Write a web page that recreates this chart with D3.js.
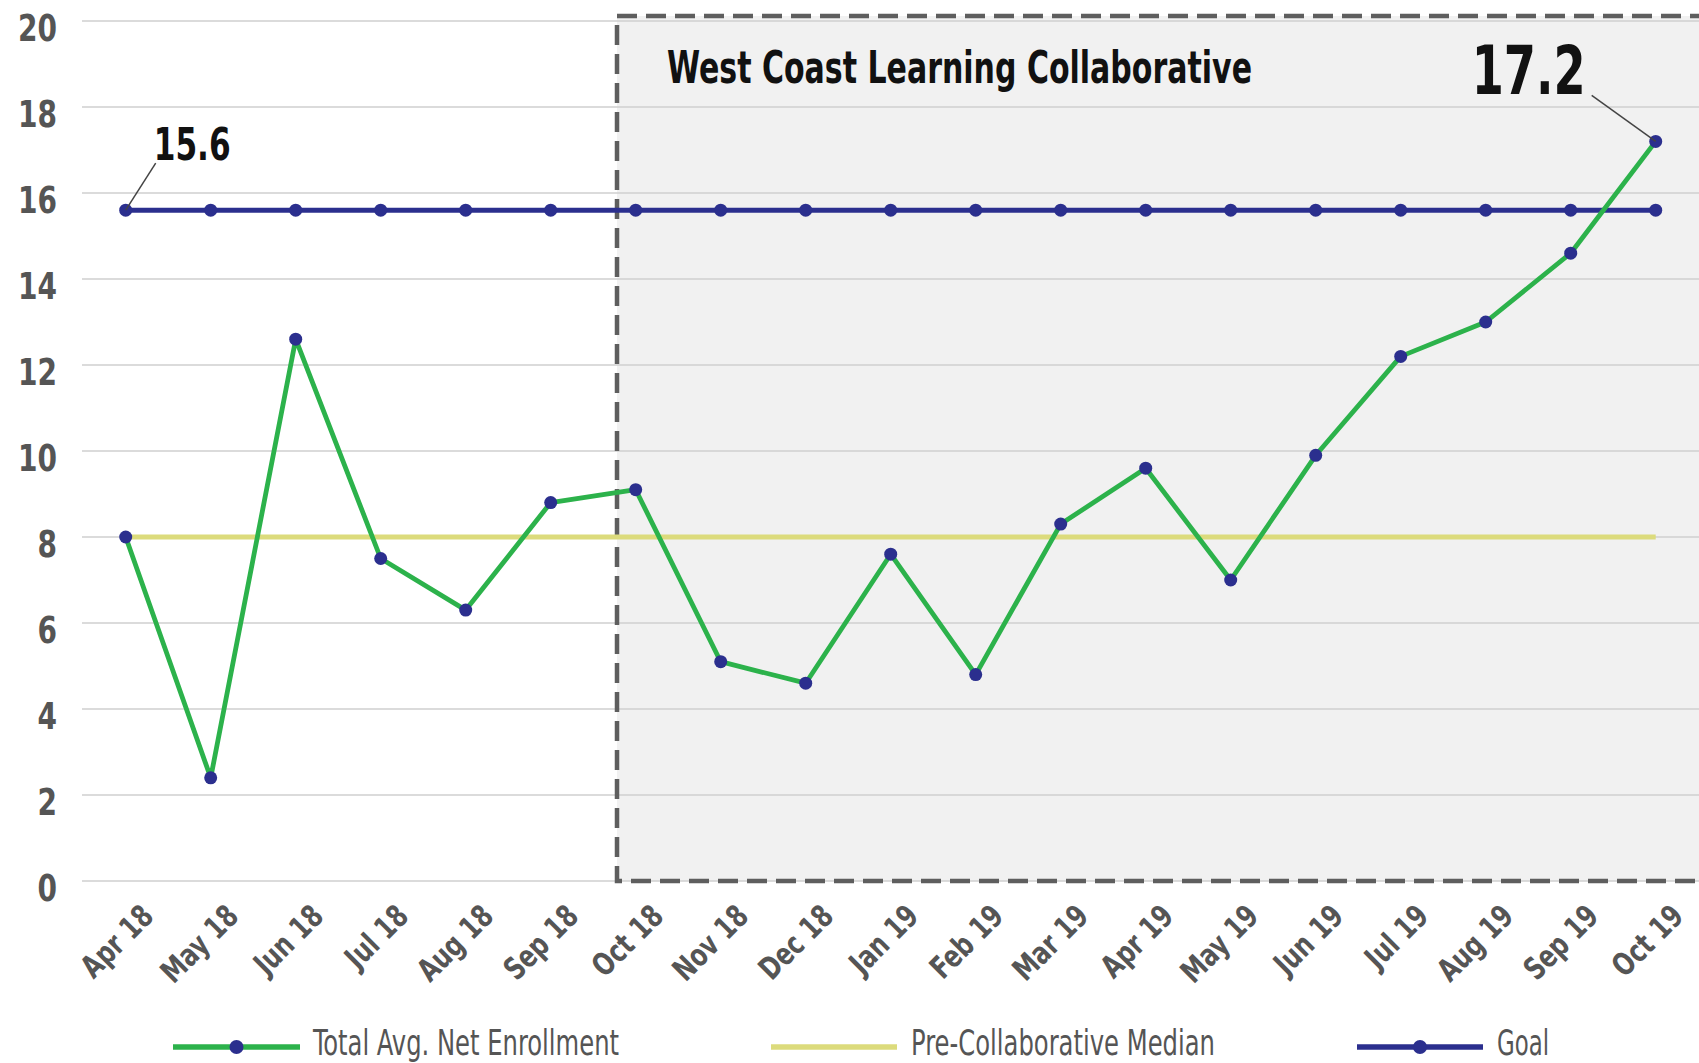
<!DOCTYPE html>
<html><head><meta charset="utf-8">
<script src="https://cdn.jsdelivr.net/npm/d3@7"></script>
<style>
body{margin:0;background:#fff;}
svg{display:block;}
text{font-family:"Liberation Sans Narrow","DejaVu Sans Condensed","Roboto Condensed",sans-serif;}
</style>
</head><body>
<svg id="chart" width="1699" height="1063"></svg>
<script>
// ---- data ----
const months = ["Apr 18","May 18","Jun 18","Jul 18","Aug 18","Sep 18","Oct 18","Nov 18","Dec 18",
  "Jan 19","Feb 19","Mar 19","Apr 19","May 19","Jun 19","Jul 19","Aug 19","Sep 19","Oct 19"];
const enrollment = [8.0,2.4,12.6,7.5,6.3,8.8,9.1,5.1,4.6,7.6,4.8,8.3,9.6,7.0,9.9,12.2,13.0,14.6,17.2];
const preMedian  = [8,8,8,8,8,8,8,8,8,8,8,8,8,8,8,8,8,8,8];
const goal       = [15.6,15.6,15.6,15.6,15.6,15.6,15.6,15.6,15.6,15.6,15.6,15.6,15.6,15.6,15.6,15.6,15.6,15.6,15.6];
const yTicks = [0,2,4,6,8,10,12,14,16,18,20];
const seriesNames = ["Total Avg. Net Enrollment","Pre-Collaborative Median","Goal"];
const collabStart = "Oct 18";
const collabTitle = "West Coast Learning Collaborative";
const calloutStart = {month:"Apr 18", value:15.6, label:"15.6"};
const calloutEnd = {month:"Oct 19", value:17.2, label:"17.2"};

// ---- styles ----
const GREEN = "#2cb24b", BLUE = "#2b2f8e", YELLOW = "#dcdb7c", GRID = "#cfcfcf", TXT = "#555555";
const FONT = '"Liberation Sans Narrow","DejaVu Sans Condensed",sans-serif';

const W = 1699, H = 1063;
const svg = d3.select("#chart");

const x = d3.scalePoint().domain(months).range([125.7, 1655.7]);
const y = d3.scaleLinear().domain([0, 20]).range([881, 21]);
const step = x.step();
const gridLeft = 82;

// shaded collaborative region
const boxX = x(collabStart) - 0.22 * step;
const boxTop = y(20) - 5;
svg.append("rect")
  .attr("x", boxX).attr("y", boxTop)
  .attr("width", W + 40 - boxX).attr("height", y(0) - boxTop)
  .attr("fill", "#f1f1f1");

// grid lines
svg.append("g").selectAll("line").data(yTicks).join("line")
  .attr("x1", gridLeft).attr("x2", W)
  .attr("y1", d => y(d)).attr("y2", d => y(d))
  .attr("stroke", GRID).attr("stroke-width", 1.6);

// y axis labels
const yAxis = d3.axisLeft(y).tickValues(yTicks).tickSize(0).tickPadding(0);
const yg = svg.append("g").attr("transform", `translate(57,0)`).call(yAxis);
yg.select(".domain").remove();
yg.selectAll("text")
  .attr("x", 0).attr("dy", null).attr("y", 19)
  .attr("text-anchor", "end")
  .attr("textLength", d => String(d).length * 19.5).attr("lengthAdjust", "spacingAndGlyphs")
  .attr("fill", TXT).style("font-size", "37px").style("font-weight", "bold")
  .style("font-family", FONT);

// x axis labels (rotated, horizontally condensed via transform)
const xAxis = d3.axisBottom(x).tickSize(0).tickPadding(0);
const xg = svg.append("g").attr("transform", `translate(0,${y(0)})`).call(xAxis);
xg.select(".domain").remove();
xg.selectAll("text")
  .attr("y", 0).attr("dy", null)
  .attr("transform", "translate(29,37) rotate(-45) scale(0.84,1)")
  .attr("text-anchor", "end")
  .attr("fill", TXT).style("font-size", "31px").style("font-weight", "bold")
  .style("font-family", FONT);

// dashed border of region (left, top, bottom)
const bx2 = W + 40;
svg.append("path")
  .attr("d", `M${bx2},${boxTop} L${boxX},${boxTop} L${boxX},${y(0)} L${bx2},${y(0)}`)
  .attr("fill", "none").attr("stroke", "#5e5e5e").attr("stroke-width", 4.5)
  .attr("stroke-dasharray", "20,9");

// region title
svg.append("text")
  .attr("x", boxX + 50).attr("y", 83)
  .attr("textLength", 585).attr("lengthAdjust", "spacingAndGlyphs")
  .attr("fill", "#111").style("font-size", "45px").style("font-weight", "bold")
  .text(collabTitle);

const line = d3.line().x((d, i) => x(months[i])).y(d => y(d));

// median
svg.append("path").datum(preMedian).attr("d", line)
  .attr("fill", "none").attr("stroke", YELLOW).attr("stroke-width", 5);

// goal
svg.append("path").datum(goal).attr("d", line)
  .attr("fill", "none").attr("stroke", BLUE).attr("stroke-width", 5);
svg.append("g").selectAll("circle").data(goal).join("circle")
  .attr("cx", (d, i) => x(months[i])).attr("cy", d => y(d)).attr("r", 6.5).attr("fill", BLUE);

// enrollment
svg.append("path").datum(enrollment).attr("d", line)
  .attr("fill", "none").attr("stroke", GREEN).attr("stroke-width", 4.8).attr("stroke-linejoin", "round");
svg.append("g").selectAll("circle").data(enrollment).join("circle")
  .attr("cx", (d, i) => x(months[i])).attr("cy", d => y(d)).attr("r", 6.5).attr("fill", BLUE);

// callouts
const p1 = [x(calloutStart.month), y(calloutStart.value)];
svg.append("line").attr("x1", p1[0] + 30).attr("y1", p1[1] - 47).attr("x2", p1[0]).attr("y2", p1[1])
  .attr("stroke", "#444").attr("stroke-width", 1.5);
svg.append("text").attr("x", p1[0] + 28).attr("y", p1[1] - 50)
  .attr("textLength", 77).attr("lengthAdjust", "spacingAndGlyphs")
  .attr("fill", "#111").style("font-size", "44px").style("font-weight", "bold")
  .text(calloutStart.label);

const p2 = [x(calloutEnd.month), y(calloutEnd.value)];
svg.append("line").attr("x1", p2[0] - 64).attr("y1", p2[1] - 46).attr("x2", p2[0]).attr("y2", p2[1])
  .attr("stroke", "#444").attr("stroke-width", 1.5);
svg.append("text").attr("x", p2[0] - 70).attr("y", p2[1] - 47)
  .attr("text-anchor", "end")
  .attr("textLength", 114).attr("lengthAdjust", "spacingAndGlyphs")
  .attr("fill", "#111").style("font-size", "67px").style("font-weight", "bold")
  .text(calloutEnd.label);

// legend
const legendItems = [
  {name: seriesNames[0], color: GREEN, dot: true, x1: 173, x2: 300, tx: 313, tw: 306},
  {name: seriesNames[1], color: YELLOW, dot: false, x1: 771, x2: 897, tx: 911, tw: 304},
  {name: seriesNames[2], color: BLUE, dot: true, x1: 1357, x2: 1483, tx: 1497, tw: 52}
];
const ly = 1047;
const lg = svg.append("g").selectAll("g").data(legendItems).join("g");
lg.append("line").attr("x1", d => d.x1).attr("x2", d => d.x2).attr("y1", ly).attr("y2", ly)
  .attr("stroke", d => d.color).attr("stroke-width", 5.5);
lg.filter(d => d.dot).append("circle")
  .attr("cx", d => (d.x1 + d.x2) / 2).attr("cy", ly).attr("r", 7).attr("fill", BLUE);
lg.append("text").attr("x", d => d.tx).attr("y", 1055)
  .attr("textLength", d => d.tw).attr("lengthAdjust", "spacingAndGlyphs")
  .attr("fill", TXT).style("font-size", "36px")
  .text(d => d.name);
</script>
</body></html>
